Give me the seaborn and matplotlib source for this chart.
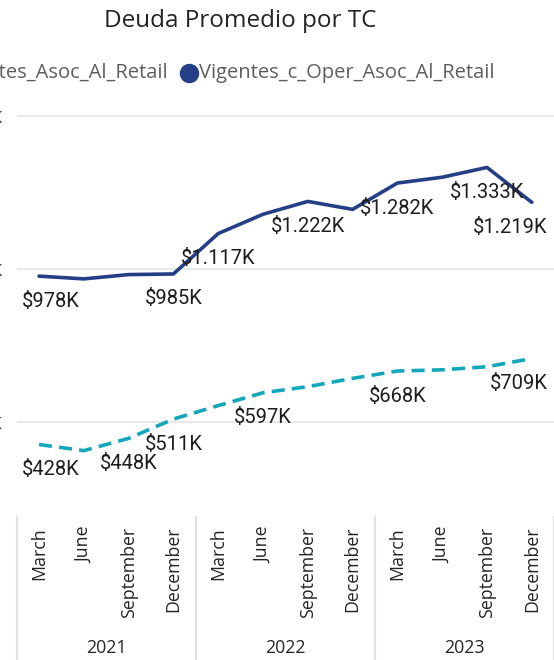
import numpy as np
import pandas as pd
import seaborn as sns
import matplotlib.pyplot as plt
from matplotlib.lines import Line2D
from matplotlib.transforms import blended_transform_factory

sns.set_style('white')
plt.rcParams['font.family'] = ['Open Sans', 'DejaVu Sans']

# ---- data (values in thousands) ----
months = ['March', 'June', 'September', 'December']
years = ['2021', '2022', '2023']
oper_vals = [978, 969, 983, 985, 1117, 1180, 1222, 1196, 1282, 1301, 1333, 1219]
asoc_vals = [428, 408, 448, 511, 555, 597, 617, 644, 668, 672, 682, 709]
oper_labeled = [0, 3, 4, 6, 8, 10, 11]
asoc_labeled = [0, 2, 3, 5, 8, 11]
y_ticks = [500, 1000, 1500]
y_tick_labels = ['$500K', '$1.000K', '$1.500K']

blue = '#253F86'
teal = '#14A7BB'

df = pd.DataFrame({
    'idx': np.arange(len(oper_vals)),
    'oper': oper_vals,
    'asoc': asoc_vals,
})

# ---- figure ----
W, H = 554, 660
fig = plt.figure(figsize=(W / 100, H / 100), dpi=100)
ax = fig.add_axes([16.6 / W, 1 - 499 / H, 537.6 / W, 398 / H])

sns.lineplot(data=df, x='idx', y='asoc', ax=ax, color=teal, lw=2.6,
             dashes=False, linestyle=(0, (3.6, 2.0)))
sns.lineplot(data=df, x='idx', y='oper', ax=ax, color=blue, lw=2.6)

ax.set_xlim(-0.5, 11.5)
ax.set_ylim(250, 1550)
ax.set_xlabel('')
ax.set_ylabel('')
for s in ax.spines.values():
    s.set_visible(False)

# y axis (labels sit partly outside the picture, as in the reference)
ax.set_yticks(y_ticks)
ax.set_yticklabels(y_tick_labels, fontsize=12.5, color='#444444')
ax.tick_params(axis='y', length=0, pad=10)
ax.yaxis.grid(True, color='#E6E6E6', lw=1.3)
ax.set_axisbelow(True)

# x axis: months, years, separators
ax.set_xticks(range(12))
ax.set_xticklabels(months * 3, rotation=90, fontsize=12.8, color='#252423')
ax.tick_params(axis='x', length=0, pad=20)

tr = blended_transform_factory(ax.transData, fig.transFigure)
for i, yr in enumerate(years):
    ax.text(4 * i + 1.5, 1 - 648 / H, yr, transform=tr, ha='center',
            va='center', fontsize=12.8, color='#252423')
for xs in [-0.5, 3.5, 7.5, 11.5]:
    ax.plot([xs, xs], [1 - 517 / H, 0], transform=tr, color='#E1E1E1',
            lw=1.5, clip_on=False)

# data labels
def fmt(v):
    if v >= 1000:
        return '${}.{:03d}K'.format(v // 1000, v % 1000)
    return '${}K'.format(v)

def put_labels(vals, idxs):
    for i in idxs:
        ha, dx = 'center', 0
        if i == 0:
            ha, dx = 'left', -12
        elif i == len(vals) - 1:
            ha, dx = 'right', 11.5
        ax.annotate(fmt(vals[i]), (i, vals[i]), xytext=(dx, -18),
                    textcoords='offset points', ha=ha, va='center',
                    fontsize=14.5, family=['Roboto', 'DejaVu Sans'],
                    color='#1E1E1E')

put_labels(oper_vals, oper_labeled)
put_labels(asoc_vals, asoc_labeled)

# title and legend
fig.text(240 / W, 1 - 21 / H, 'Deuda Promedio por TC', ha='center',
         va='center', fontsize=17.5, color='#252423')
fig.text(168 / W, 1 - 73 / H, 'Vigentes_Asoc_Al_Retail', ha='right',
         va='center', fontsize=14.5, color='#605E5C')
fig.add_artist(Line2D([-40 / W], [1 - 73 / H], marker='o', ms=13,
                      color=teal, lw=0, transform=fig.transFigure))
fig.add_artist(Line2D([189 / W], [1 - 73 / H], marker='o', ms=13,
                      color=blue, lw=0, transform=fig.transFigure))
fig.text(199 / W, 1 - 73 / H, 'Vigentes_c_Oper_Asoc_Al_Retail', ha='left',
         va='center', fontsize=14.5, color='#605E5C')

fig.savefig('out.png', dpi=100)
